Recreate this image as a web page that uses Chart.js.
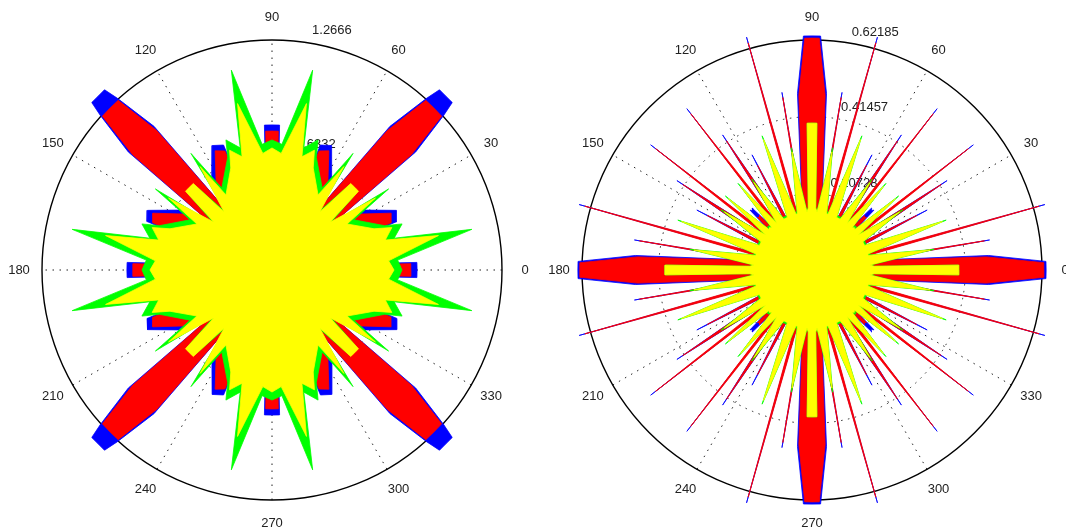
<!DOCTYPE html>
<html>
<head>
<meta charset="utf-8">
<script src="https://cdn.jsdelivr.net/npm/chart.js@4/dist/chart.umd.min.js"></script>
<style>
  html, body { margin: 0; padding: 0; background: #fff; overflow: hidden; }
  #wrap { position: relative; width: 1066px; height: 531px; overflow: hidden; }
  canvas { position: absolute; top: 0; }
  #left { left: 0; }
  #right { left: 540px; }
</style>
</head>
<body>
<div id="wrap">
  <canvas id="left" width="544" height="531"></canvas>
  <canvas id="right" width="544" height="531"></canvas>
</div>
<script>
// Both plots have 4-fold symmetry with a mirror on the 45 deg line, so each
// outline is given for the 0..45 deg octant only (angle in degrees, radius).

// left plot
const leftRMax = 1.2666;
const leftRings = [0.6332, 1.2666];
const leftBlueAng = [0, 3, 5.5, 19, 21.2, 25.6, 33.7, 36.5, 39.4, 42.0, 42.9, 45];
const leftBlueR = [0.799, 0.799, 0.330, 0.330, 0.738, 0.760, 0.595, 0.330, 1.024, 1.272, 1.355, 1.354];
const leftRedAng = [0, 2.6, 5, 19, 21.6, 25.5, 32.5, 36, 39.6, 42.2, 45];
const leftRedR = [0.765, 0.765, 0.303, 0.303, 0.705, 0.727, 0.573, 0.303, 0.997, 1.261, 1.261];
const leftGreenAng = [0, 4.5, 11.5, 14.6, 19.5, 21.5, 31.5, 34.8, 38.5, 42.3, 45];
const leftGreenR = [0.716, 0.694, 1.123, 0.695, 0.760, 0.666, 0.529, 0.782, 0.400, 0.630, 0.630];
const leftYellowAng = [0, 4.5, 11.7, 14.8, 19.5, 22, 31.5, 34.8, 39.5, 42.3, 45];
const leftYellowR = [0.672, 0.644, 0.936, 0.645, 0.700, 0.606, 0.485, 0.694, 0.413, 0.644, 0.644];

// right plot
const rightRMax = 0.62185;
const rightRings = [0.20728, 0.41457, 0.62185];
const rightBlueAng = [0, 2.1, 4.7, 7.8, 8.8, 9.6, 10.4, 14.8, 15.7, 16.6, 25.5, 27.5, 29.5, 31, 33.5, 36, 37, 37.8, 38.6, 42, 44, 45];
const rightBlueR = [0.633, 0.633, 0.479, 0.208, 0.127, 0.487, 0.127, 0.127, 0.654, 0.127, 0.127, 0.351, 0.127, 0.141, 0.438, 0.154, 0.135, 0.552, 0.135, 0.127, 0.233, 0.227];
const rightRedAng = [0, 1.8, 4.3, 7.5, 8.4, 9.6, 11, 14, 15.7, 17.5, 25.5, 27.5, 29.5, 31, 33.5, 36, 37.8, 39.5, 42, 44, 45];
const rightRedR = [0.627, 0.627, 0.473, 0.203, 0.122, 0.473, 0.122, 0.122, 0.638, 0.122, 0.122, 0.319, 0.122, 0.135, 0.419, 0.149, 0.535, 0.122, 0.122, 0.205, 0.200];
const rightGreenAng = [0, 1.9, 3.4, 5, 9.6, 14.5, 16, 20.4, 25, 29, 33.5, 37, 40.5, 43.5, 45];
const rightGreenR = [0.397, 0.397, 0.168, 0.162, 0.335, 0.162, 0.162, 0.387, 0.162, 0.162, 0.295, 0.162, 0.308, 0.162, 0.168];
const rightYellowAng = [0, 1.9, 3.4, 5, 9.6, 14.5, 16, 20.4, 25, 29, 33.5, 37, 40.5, 43.5, 45];
const rightYellowR = [0.397, 0.397, 0.168, 0.157, 0.324, 0.157, 0.157, 0.376, 0.157, 0.157, 0.284, 0.157, 0.297, 0.157, 0.162];

const colors = { yellow: '#ffff00', green: '#00ff00', red: '#ff0000', blue: '#0000ff' };

// octant -> full turn: mirror on 45 deg, then repeat every 90 deg
function unfold(ang, rad) {
  const qa = ang.slice();
  const qr = rad.slice();
  for (let i = ang.length - 1; i >= 0; i--) {
    qa.push(90 - ang[i]);
    qr.push(rad[i]);
  }
  const pts = [];
  for (let q = 0; q < 4; q++) {
    qa.forEach((a, i) => {
      const t = (a + 90 * q) * Math.PI / 180;
      pts.push({ x: qr[i] * Math.cos(t), y: qr[i] * Math.sin(t) });
    });
  }
  return pts;
}

const polarGrid = (rMax, rings, labels) => ({
  id: 'polarGrid',
  beforeDatasetsDraw(chart) {
    const { ctx, scales: { x, y } } = chart;
    const cx = x.getPixelForValue(0);
    const cy = y.getPixelForValue(0);
    const k = (x.getPixelForValue(rMax) - cx) / rMax;
    const R = rMax * k;
    ctx.save();
    ctx.strokeStyle = '#222';
    ctx.lineWidth = 1;
    ctx.setLineDash([1.5, 5.5]);
    rings.forEach((v) => {
      if (v < rMax) {
        ctx.beginPath();
        ctx.arc(cx, cy, v * k, 0, 2 * Math.PI);
        ctx.stroke();
      }
    });
    for (let a = 30; a <= 180; a += 30) {
      const t = a * Math.PI / 180;
      ctx.beginPath();
      ctx.moveTo(cx - R * Math.cos(t), cy + R * Math.sin(t));
      ctx.lineTo(cx + R * Math.cos(t), cy - R * Math.sin(t));
      ctx.stroke();
    }
    ctx.setLineDash([]);
    ctx.strokeStyle = '#000';
    ctx.lineWidth = 1.4;
    ctx.beginPath();
    ctx.arc(cx, cy, R, 0, 2 * Math.PI);
    ctx.stroke();

    ctx.fillStyle = '#222';
    ctx.font = '13px "Liberation Sans", Arial, sans-serif';
    ctx.textAlign = 'center';
    ctx.textBaseline = 'middle';
    for (let a = 0; a < 360; a += 30) {
      const t = a * Math.PI / 180;
      ctx.fillText(String(a), cx + 1.1 * R * Math.cos(t), cy - 1.1 * R * Math.sin(t));
    }
    const rinc = rings[0];
    const t82 = 82 * Math.PI / 180;
    ctx.textAlign = 'left';
    ctx.textBaseline = 'bottom';
    rings.forEach((v, i) => {
      const rr = (v + rinc / 20) * k;
      ctx.fillText('  ' + labels[i], cx + rr * Math.cos(t82), cy - rr * Math.sin(t82));
    });
    ctx.restore();
  },
});

function polarChart(id, rMax, rings, labels, series) {
  const span = rMax * 258 / 230;
  return new Chart(document.getElementById(id), {
    type: 'scatter',
    data: {
      datasets: series.map((s) => ({
        data: unfold(s.ang, s.r),
        showLine: true,
        fill: 'shape',
        tension: 0,
        pointRadius: 0,
        borderWidth: 0.8,
        borderJoinStyle: 'round',
        borderColor: s.color,
        backgroundColor: s.color,
      })),
    },
    options: {
      responsive: false,
      animation: false,
      events: [],
      layout: { padding: { left: 14, right: 14, top: 12, bottom: 3 } },
      scales: {
        x: { display: false, min: -span, max: span },
        y: { display: false, min: -span, max: span },
      },
      plugins: { legend: { display: false }, tooltip: { enabled: false } },
    },
    plugins: [polarGrid(rMax, rings, labels)],
  });
}

// dataset 0 is drawn last, so yellow sits on top and blue at the bottom
polarChart('left', leftRMax, leftRings, ['0.6332', '1.2666'], [
  { ang: leftYellowAng, r: leftYellowR, color: colors.yellow },
  { ang: leftGreenAng, r: leftGreenR, color: colors.green },
  { ang: leftRedAng, r: leftRedR, color: colors.red },
  { ang: leftBlueAng, r: leftBlueR, color: colors.blue },
]);

polarChart('right', rightRMax, rightRings, ['0.20728', '0.41457', '0.62185'], [
  { ang: rightYellowAng, r: rightYellowR, color: colors.yellow },
  { ang: rightGreenAng, r: rightGreenR, color: colors.green },
  { ang: rightRedAng, r: rightRedR, color: colors.red },
  { ang: rightBlueAng, r: rightBlueR, color: colors.blue },
]);
</script>
</body>
</html>
